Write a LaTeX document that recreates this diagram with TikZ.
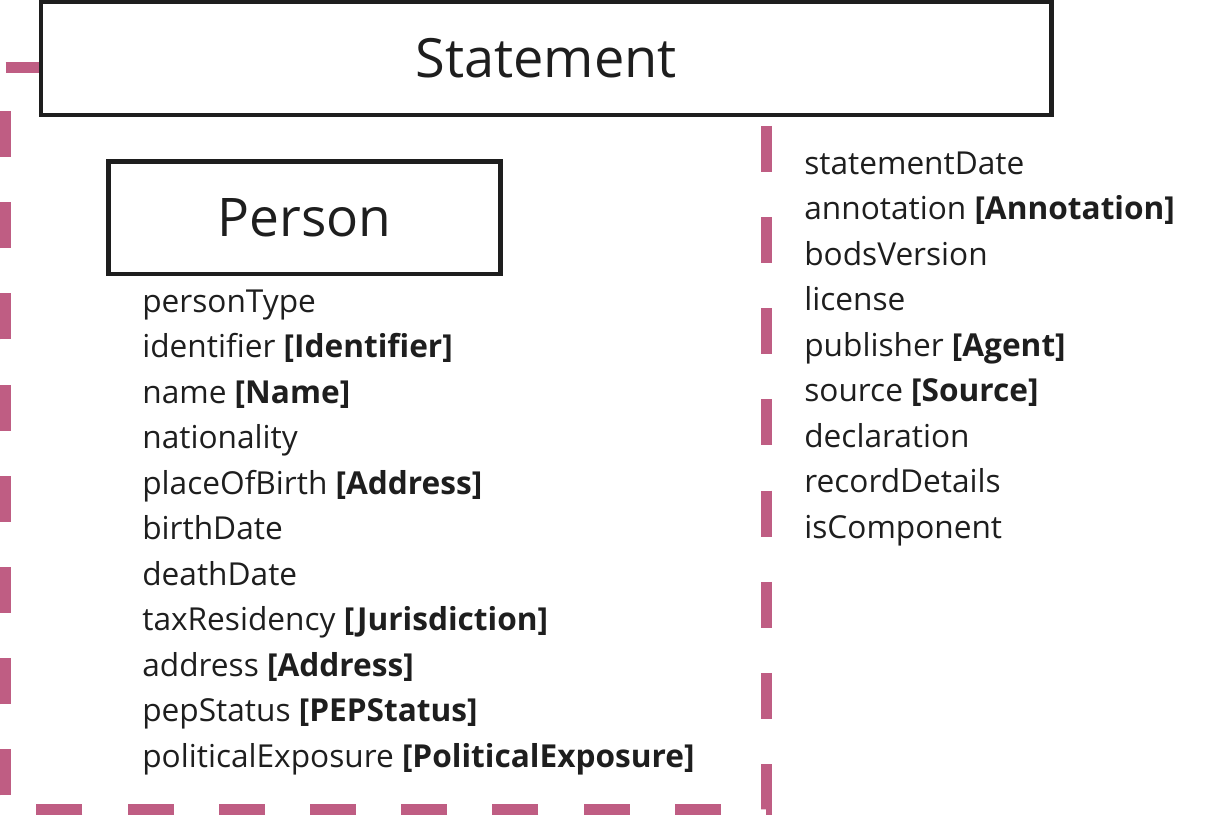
\documentclass[tikz,border=0pt]{standalone}
\usepackage{fontspec}
\setmainfont{Open Sans}
\usepackage{tikz}
\usetikzlibrary{calc}
\usepackage{xcolor}
\definecolor{bodsblack}{RGB}{30,30,30}
\definecolor{bodspink}{RGB}{191,93,131}
\tikzstyle{entity} = [rectangle, draw=bodsblack, fill=white, line width=0.09cm, inner sep=0pt, text=bodsblack, align=center]
\tikzstyle{field} = [anchor=base west, inner sep=0pt, text=bodsblack, font=\fontsize{18}{21}\selectfont]
\tikzstyle{componentframe} = [draw=bodspink, line width=0.22cm, dash pattern=on 0.92cm off 0.904cm, dash phase=0.026cm]

\begin{document}
\begin{tikzpicture}[x=0.02cm, y=-0.02cm]
    \useasboundingbox (0,0) rectangle (1225,815);

    % Dashed frame round the person
    \coordinate (frameNW) at (5.5,67.5);
    \coordinate (frameSE) at (766.5,809.5);
    \draw[componentframe] (frameNW) -- (frameNW -| frameSE) -- (frameSE) -- (frameSE -| frameNW) -- cycle;

    % Statement
    \node[entity, minimum width=20.21cm, minimum height=2.26cm, font=\fontsize{30.8}{36}\selectfont] (statement) at (546.25,58.5) {Statement};

    % Person
    \node[entity, minimum width=7.84cm, minimum height=2.25cm, font=\fontsize{30.3}{36}\selectfont] (person) at (304.5,217.75) {Person};

    % Person fields
    \foreach \fieldtext [count=\i] in {personType, identifier \textbf{[Identifier]}, name \textbf{[Name]}, nationality, placeOfBirth \textbf{[Address]}, birthDate, deathDate, taxResidency \textbf{[Jurisdiction]}, address \textbf{[Address]}, pepStatus \textbf{[PEPStatus]}, politicalExposure \textbf{[PoliticalExposure]}}
        \node[field] (personfield\i) at (142, {312+45.5*(\i-1)}) {\fieldtext};

    % Statement fields
    \foreach \fieldtext [count=\i] in {statementDate, annotation \textbf{[Annotation]}, bodsVersion, license, publisher \textbf{[Agent]}, source \textbf{[Source]}, declaration, recordDetails, isComponent}
        \node[field] (statementfield\i) at (804, {174+45.5*(\i-1)}) {\fieldtext};
\end{tikzpicture}
\end{document}
